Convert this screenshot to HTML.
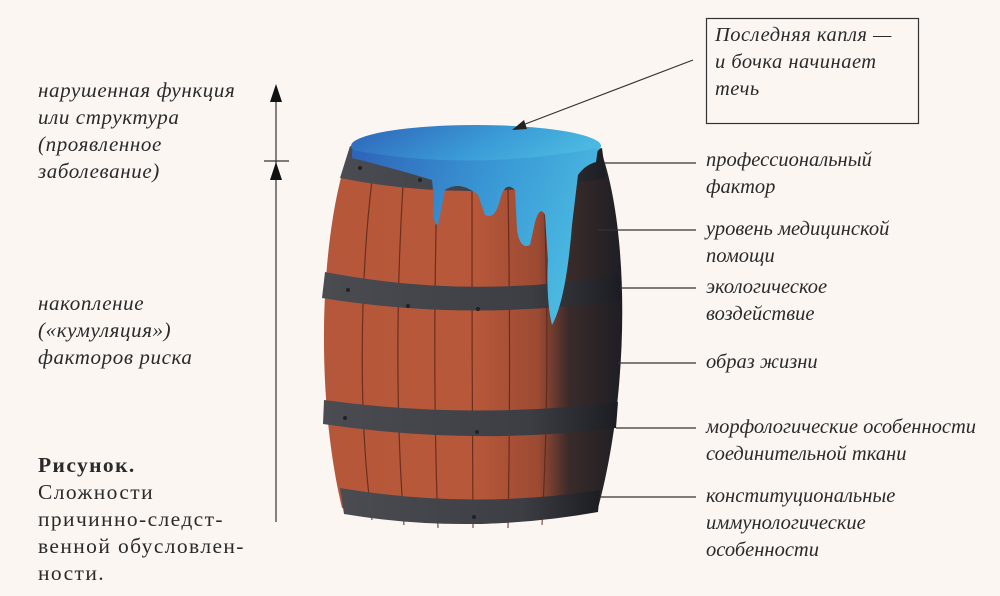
<!DOCTYPE html>
<html><head><meta charset="utf-8"><style>
html,body{margin:0;padding:0;background:#fcf6f2;}
body{width:1000px;height:596px;position:relative;overflow:hidden;font-family:"Liberation Serif",serif;color:#2a2a2a;}
.t{position:absolute;font-style:italic;font-size:20.5px;line-height:27px;white-space:nowrap;}
.l{font-size:21px;letter-spacing:0.6px;}
.u{position:absolute;font-size:21.5px;line-height:27px;white-space:nowrap;letter-spacing:1.4px;}
</style></head><body>
<svg width="1000" height="596" style="position:absolute;left:0;top:0">
<defs>
<linearGradient id="wood" x1="0" x2="1" y1="0" y2="0">
<stop offset="0" stop-color="#b5573a"/><stop offset="0.5" stop-color="#b8583a"/><stop offset="0.72" stop-color="#9c4a33"/><stop offset="0.82" stop-color="#3a2b2a"/><stop offset="1" stop-color="#1e1e24"/>
</linearGradient>
<linearGradient id="hoop" x1="0" x2="1"><stop offset="0" stop-color="#4a4c52"/><stop offset="0.7" stop-color="#3c3e44"/><stop offset="1" stop-color="#1c1d22"/></linearGradient>
<linearGradient id="water" x1="0" x2="1" y1="0" y2="0.3"><stop offset="0" stop-color="#2e63b8"/><stop offset="0.6" stop-color="#3a9ad6"/><stop offset="1" stop-color="#4ab8e0"/></linearGradient>
</defs>
<path d="M350,148 C320,230 314,390 342,508 Q470,540 598,508 C630,390 630,230 600,148 Z" fill="url(#wood)"/>
<g stroke="#5a2418" stroke-width="1.2" fill="none" opacity="0.8">
<path d="M372,180 C360,280 358,420 372,520"/><path d="M403,185 C396,300 396,420 404,525"/>
<path d="M437,188 C434,300 434,420 438,528"/><path d="M472,190 C472,300 472,420 473,528"/>
<path d="M508,190 C510,300 510,420 508,528"/><path d="M544,188 C548,300 548,420 542,525"/>
</g>
<path d="M350,146 Q470,190 602,148 L606,178 Q470,204 340,178 Z" fill="url(#hoop)"/>
<path d="M325,272 Q470,300 620,275 L620,300 Q470,322 322,298 Z" fill="url(#hoop)"/>
<path d="M324,400 Q470,420 618,402 L616,428 Q470,446 323,424 Z" fill="url(#hoop)"/>
<path d="M340,488 Q470,510 600,490 L598,512 Q470,535 344,514 Z" fill="url(#hoop)"/>
<ellipse cx="476" cy="146" rx="125" ry="21" fill="url(#water)"/>
<path d="M352,150 Q470,172 598,148 L596,162 Q585,165 578,175 L572,225 Q566,300 552,325 Q546,300 548,260 L545,215 Q540,205 535,222 L530,245 Q520,250 517,230 L515,190 Q505,180 500,200 Q495,220 485,215 L478,195 Q460,180 445,190 L438,225 Q432,225 434,200 L432,180 Q400,170 352,158 Z" fill="url(#water)"/>
<g fill="#222"><circle cx="360" cy="168" r="2"/><circle cx="420" cy="180" r="2"/><circle cx="348" cy="290" r="2"/><circle cx="408" cy="306" r="2"/><circle cx="478" cy="309" r="2"/><circle cx="345" cy="418" r="2"/><circle cx="477" cy="432" r="2"/><circle cx="474" cy="517" r="2"/></g>
<g stroke="#333" stroke-width="1.2">
<line x1="604" y1="163" x2="696" y2="163"/><line x1="598" y1="230" x2="696" y2="230"/>
<line x1="620" y1="288" x2="696" y2="288"/><line x1="618" y1="363" x2="696" y2="363"/>
<line x1="616" y1="428" x2="696" y2="428"/><line x1="600" y1="497" x2="696" y2="497"/>
<line x1="693" y1="60" x2="520" y2="126"/>
<line x1="276" y1="90" x2="276" y2="522"/><line x1="264" y1="161" x2="289" y2="161"/>
</g>
<polygon points="512,130 524,120 527,129" fill="#222"/>
<polygon points="276,84 270,102 282,102" fill="#111"/>
<polygon points="276,162 270,180 282,180" fill="#111"/>
<rect x="706.5" y="18.5" width="212" height="105" fill="none" stroke="#333" stroke-width="1.2"/>
</svg>
<div class="t" style="left:715px;top:22px;letter-spacing:0.5px;">Последняя капля —<br>и бочка начинает<br>течь</div>
<div class="t l" style="left:38px;top:77px;">нарушенная функция<br>или структура<br>(проявленное<br>заболевание)</div>
<div class="t l" style="left:38px;top:290px;">накопление<br>(«кумуляция»)<br>факторов риска</div>
<div class="u" style="left:38px;top:452px;"><b>Рисунок.</b><br>Сложности<br>причинно-следст-<br>венной обусловлен-<br>ности.</div>
<div class="t" style="left:706px;top:147px;">профессиональный<br>фактор</div>
<div class="t" style="left:706px;top:216px;">уровень медицинской<br>помощи</div>
<div class="t" style="left:706px;top:274px;">экологическое<br>воздействие</div>
<div class="t" style="left:706px;top:349px;">образ жизни</div>
<div class="t" style="left:706px;top:414px;">морфологические особенности<br>соединительной ткани</div>
<div class="t" style="left:706px;top:483px;">конституциональные<br>иммунологические<br>особенности</div>
</body></html>
